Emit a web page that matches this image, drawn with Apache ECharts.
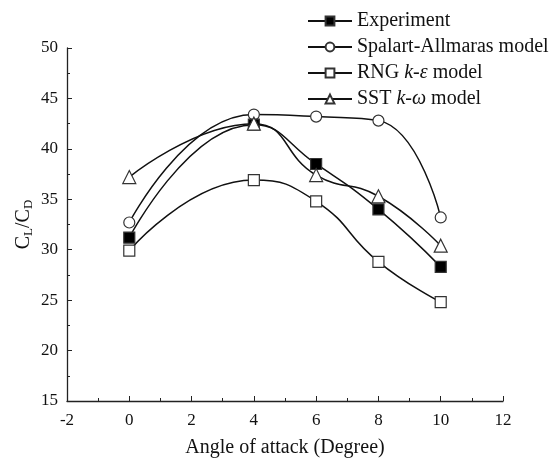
<!DOCTYPE html>
<html>
<head>
<meta charset="utf-8">
<script src="https://cdn.jsdelivr.net/npm/echarts@6/dist/echarts.min.js"></script>
<style>html,body{margin:0;padding:0;background:#fff}#c{width:550px;height:459px}</style>
</head>
<body>
<div id="c"></div>
<script>
var angles = [0, 4, 6, 8, 10];
var experiment = [31.2, 42.4, 38.5, 34.0, 28.3];
var spalart = [32.7, 43.4, 43.2, 42.8, 33.2];
var rng = [29.9, 36.9, 34.8, 28.8, 24.8];
var sst = [37.2, 42.5, 37.4, 35.3, 30.4];
var seriesNames = ['Experiment', 'Spalart-Allmaras model', 'RNG k-\u03B5 model', 'SST k-\u03C9 model'];

function pairs(v){ return angles.map(function(a,i){return [a, v[i]];}); }
var font = 'Liberation Serif';
function mk(name, data, symbol, fill, z){
  return {
    name: name, type: 'line', data: pairs(data), smooth: 0.5, smoothConstraint: false,
    symbol: symbol, symbolSize: symbol === 'triangle' ? 13 : 11, showSymbol: true, z: z,
    lineStyle: {color: '#111', width: 1.5},
    itemStyle: {color: fill, borderColor: '#333', borderWidth: 1.2}
  };
}
var chart = echarts.init(document.getElementById('c'), null, {renderer: 'canvas'});
chart.setOption({
  animation: false,
  backgroundColor: '#fff',
  grid: {left: 67, right: 47, top: 48, bottom: 58, outerBoundsMode: 'none', containLabel: false},
  legend: {
    orient: 'vertical', left: 307, top: 11, padding: 0, itemGap: 6, itemWidth: 44, itemHeight: 11,
    textStyle: {fontFamily: font, fontSize: 20, color: '#111',
      rich: {i: {fontFamily: font, fontStyle: 'italic', fontSize: 20, color: '#111'}}},
    formatter: function(n){
      if (n.indexOf('RNG') === 0) return 'RNG {i|k-\u03B5} model';
      if (n.indexOf('SST') === 0) return 'SST {i|k-\u03C9} model';
      return n;
    },
    data: seriesNames
  },
  xAxis: {
    type: 'value', min: -2, max: 12, interval: 2,
    name: 'Angle of attack (Degree)', nameLocation: 'middle', nameGap: 37, nameMoveOverlap: false,
    nameTextStyle: {fontFamily: font, fontSize: 20, color: '#111'},
    axisLine: {onZero: false, lineStyle: {color: '#222', width: 1.3}},
    axisTick: {inside: true, length: 5, lineStyle: {color: '#222'}},
    minorTick: {show: true, splitNumber: 2, length: 3, lineStyle: {color: '#222'}},
    axisLabel: {fontFamily: font, fontSize: 17, color: '#111', margin: 11},
    splitLine: {show: false}
  },
  yAxis: {
    type: 'value', min: 15, max: 50, interval: 5,
    name: '{a|C}{s|L}{a|/C}{s|D}', nameLocation: 'middle', nameGap: 32, nameRotate: 90, nameMoveOverlap: false,
    nameTextStyle: {fontFamily: font, fontSize: 20, color: '#111',
      rich: {a: {fontFamily: font, fontSize: 20, color: '#111'},
             s: {fontFamily: font, fontSize: 13, color: '#111', verticalAlign: 'bottom', padding: [9,0,0,0]}}},
    axisLine: {show: true, onZero: false, lineStyle: {color: '#222', width: 1.3}},
    axisTick: {show: true, inside: true, length: 5, lineStyle: {color: '#222'}},
    minorTick: {show: true, splitNumber: 2, length: 3, lineStyle: {color: '#222'}},
    axisLabel: {fontFamily: font, fontSize: 17, color: '#111', margin: 9},
    splitLine: {show: false}
  },
  series: [
    mk(seriesNames[0], experiment, 'rect', '#000', 5),
    mk(seriesNames[1], spalart, 'circle', '#fff', 4),
    mk(seriesNames[2], rng, 'rect', '#fff', 3),
    mk(seriesNames[3], sst, 'triangle', '#fff', 6)
  ]
});
</script>
</body>
</html>
